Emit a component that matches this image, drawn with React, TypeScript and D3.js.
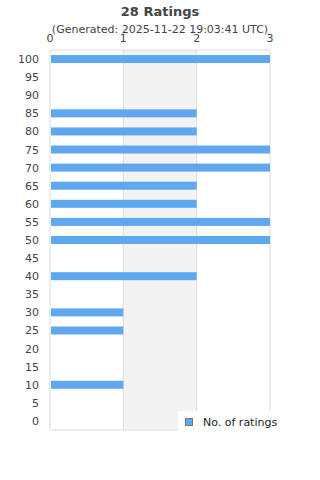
import React from "react";
import * as d3 from "d3";

const categories = ["100","95","90","85","80","75","70","65","60","55","50","45","40","35","30","25","20","15","10","5","0"];
const ratings = [3,0,0,2,2,3,3,2,2,3,3,0,2,0,1,1,0,0,1,0,0];
const xTicks = [0,1,2,3];
const title = "28 Ratings";
const subtitle = "(Generated: 2025-11-22 19:03:41 UTC)";
const seriesName = "No. of ratings";

export default function App() {
  const W = 320, H = 480;
  const left = 50, right = 270, top = 50, bottom = 430;
  const x = d3.scaleLinear().domain([0, 3]).range([left, right]);
  const y = d3.scaleBand().domain(categories).range([top, bottom]).paddingInner(0).paddingOuter(0);
  const barH = 8;
  const font = "DejaVu Sans, sans-serif";
  return (
    <svg width={W} height={H} style={{ position: "absolute", left: 0, top: 0 }} fontFamily={font}>
      <rect x={0} y={0} width={W} height={H} fill="#fff" />
      <text x={160} y={16} textAnchor="middle" fontSize={13} fontWeight="bold" fill="#444">{title}</text>
      <text x={160} y={33} textAnchor="middle" fontSize={11} fill="#444">{subtitle}</text>
      {/* alternate band */}
      <rect x={x(1)} y={top} width={x(2) - x(1)} height={bottom - top} fill="#f3f3f3" />
      {xTicks.map((t) => (
        <g key={t}>
          <line x1={x(t)} x2={x(t)} y1={top} y2={bottom} stroke="#ddd" strokeWidth={1} />
          <text x={x(t)} y={42} textAnchor="middle" fontSize={11} fill="#444">{t}</text>
        </g>
      ))}
      <line x1={left} x2={right} y1={top} y2={top} stroke="#ddd" />
      <line x1={left} x2={right} y1={bottom} y2={bottom} stroke="#ddd" />
      {categories.map((c, i) => {
        const cy = (y(c) as number) + y.bandwidth() / 2;
        return (
          <g key={c}>
            <text x={39} y={cy + 4} textAnchor="end" fontSize={11} fill="#444">{c}</text>
            {ratings[i] > 0 && (
              <rect x={x(0) + 1} y={cy - barH / 2} width={x(ratings[i]) - x(0) - 1} height={barH} fill="#5fa8f0" />
            )}
          </g>
        );
      })}
      {/* legend */}
      <rect x={178} y={411} width={93} height={20} fill="#fff" />
      <rect x={185.5} y={418.5} width={7} height={7} fill="#5fa8f0" stroke="#777" strokeWidth={1} />
      <text x={203} y={426} fontSize={11} fill="#222">{seriesName}</text>
    </svg>
  );
}
